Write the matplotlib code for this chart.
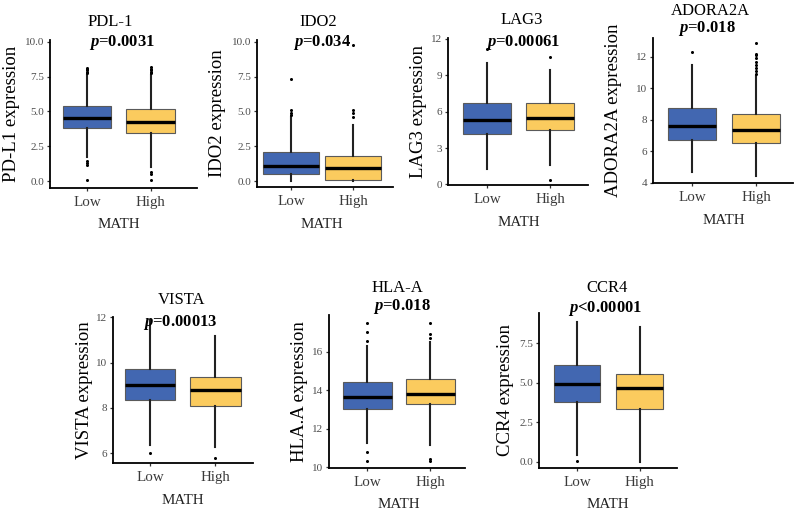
import matplotlib
matplotlib.use("Agg")
import matplotlib.pyplot as plt
import matplotlib.transforms as mtransforms
import numpy as np

plt.rcParams['font.family'] = ['Liberation Serif', 'DejaVu Serif']
plt.rcParams['mathtext.fontset'] = 'custom'
plt.rcParams['mathtext.it'] = 'Liberation Serif:italic:bold'
plt.rcParams['mathtext.rm'] = 'Liberation Serif:bold'

### data
genes = ["PDL-1", "IDO2", "LAG3", "ADORA2A", "VISTA", "HLA-A", "CCR4"]
ylabels = ["PD-L1 expression", "IDO2 expression", "LAG3 expression", "ADORA2A expression",
           "VISTA expression", "HLA.A expression", "CCR4 expression"]
pvals = ["$p$=0.0031", "$p$=0.034", "$p$=0.00061", "$p$=0.018",
         "$p$=0.00013", "$p$=0.018", "$p$<0.00001"]
groups = ["Low", "High"]

low_q1     = [3.83, 0.50, 4.17, 6.69, 8.33, 13.00, 3.77]
low_med    = [4.53, 1.08, 5.29, 7.57, 9.00, 13.65, 4.90]
low_q3     = [5.40, 2.06, 6.68, 8.73, 9.73, 14.40, 6.12]
low_whislo = [1.75, 0.00, 1.23, 4.70, 6.36, 11.25, 0.44]
low_whishi = [7.60, 4.60, 10.05, 11.50, 11.90, 16.30, 8.85]
low_fliers = [[7.75, 7.85, 7.95, 8.05, 8.12, 1.45, 1.30, 1.15, 0.05],
              [4.75, 4.85, 5.10, 7.35],
              [11.20],
              [12.30],
              [6.00],
              [16.55, 17.00, 17.50, 10.80, 10.30],
              [0.06]]

high_q1     = [3.43, 0.05, 4.50, 6.53, 8.09, 13.25, 3.32]
high_med    = [4.27, 0.93, 5.50, 7.32, 8.77, 13.80, 4.65]
high_q3     = [5.20, 1.80, 6.70, 8.37, 9.36, 14.60, 5.55]
high_whislo = [1.03, 0.00, 1.64, 4.40, 6.28, 11.15, 0.02]
high_whishi = [7.60, 4.00, 9.45, 10.80, 11.20, 16.50, 8.54]
high_fliers = [[7.75, 7.85, 7.95, 8.05, 8.20, 0.65, 0.50, 0.05],
               [4.60, 4.85, 5.10, 9.75],
               [10.50, 0.40],
               [10.9, 11.1, 11.3, 11.5, 11.7, 11.9, 12.1, 12.2, 12.9],
               [5.76],
               [16.70, 16.90, 17.50, 10.40, 10.30],
               []]

yticks = [[0, 2.5, 5, 7.5, 10], [0, 2.5, 5, 7.5, 10], [0, 3, 6, 9, 12], [4, 6, 8, 10, 12],
          [6, 8, 10, 12], [10, 12, 14, 16], [0, 2.5, 5, 7.5]]
yfmt = ["%.1f", "%.1f", "%d", "%d", "%d", "%d", "%.1f"]

### layout (pixels in a 800x519 picture)
W, H = 800, 519
rects = [(50, 197, 40, 188), (257, 393, 40, 187), (448, 588, 38, 185), (653, 793, 38, 183),
         (113, 253, 317, 463), (329, 465, 315, 468), (539, 677, 313, 468)]
xlims = [(0.417, 2.732), (0.452, 2.645), (0.381, 2.603), (0.391, 2.578),
         (0.435, 2.573), (0.389, 2.548), (0.392, 2.598)]
ylims = [(-0.5, 10.14), (-0.43, 10.12), (-0.05, 12.08), (3.97, 13.2),
         (5.56, 12.02), (9.95, 17.9), (-0.38, 9.4)]
widths = [0.76, 0.9, 0.76, 0.75, 0.77, 0.78, 0.75]
title_xy = [(110, 22), (318, 22), (522, 20), (710, 11), (182, 300), (397, 288), (607, 288)]
p_xy = [(122, 43), (322, 43), (523, 43), (707, 29), (180, 322), (402, 307), (605, 308)]
ylab_off = [38, 40, 30, 39, 28, 30, 33]

colors = ["#4267b1", "#fbcb5e"]

fig = plt.figure(figsize=(8, 5.19), dpi=100)

for i in range(len(genes)):
    l, r, t, b = rects[i]
    ax = fig.add_axes([l / W, 1 - b / H, (r - l) / W, (b - t) / H])
    stats = [
        dict(q1=low_q1[i], med=low_med[i], q3=low_q3[i], whislo=low_whislo[i],
             whishi=low_whishi[i], fliers=low_fliers[i]),
        dict(q1=high_q1[i], med=high_med[i], q3=high_q3[i], whislo=high_whislo[i],
             whishi=high_whishi[i], fliers=high_fliers[i]),
    ]
    bp = ax.bxp(stats, positions=[1, 2], widths=widths[i], patch_artist=True, showcaps=False,
                boxprops=dict(edgecolor="#5a5a5a", linewidth=0.8),
                medianprops=dict(color="black", linewidth=2.4, solid_capstyle="butt"),
                whiskerprops=dict(color="#222222", linewidth=1.5),
                flierprops=dict(marker="o", markersize=2.2, markerfacecolor="black",
                                markeredgewidth=0, linestyle="none"))
    for patch, c in zip(bp["boxes"], colors):
        patch.set_facecolor(c)

    ax.set_xlim(*xlims[i])
    ax.set_ylim(*ylims[i])
    ax.set_xticks([1, 2])
    ax.set_xticklabels(groups, fontsize=10.8, color="#3a3a3a")
    ax.set_yticks(yticks[i])
    ax.set_yticklabels([yfmt[i] % v for v in yticks[i]], fontsize=8, color="#4d4d4d")
    ax.tick_params(axis="both", direction="out", length=2.5, width=0.9, color="#333333")
    ax.tick_params(axis="x", pad=3)
    ax.tick_params(axis="y", pad=1.5)
    for s in ["top", "right"]:
        ax.spines[s].set_visible(False)
    for s in ["left", "bottom"]:
        ax.spines[s].set_linewidth(1.3)
        ax.spines[s].set_color("black")

    ax.set_ylabel(ylabels[i], fontsize=13.5, va="center")
    ax.yaxis.set_label_coords(-ylab_off[i] / (r - l), 0.5)
    ax.set_xlabel("MATH", fontsize=10.8, va="center", color="#222222")
    trans = mtransforms.blended_transform_factory(ax.transData, ax.transAxes)
    ax.xaxis.set_label_coords(1.5, -37 / (b - t), transform=trans)

    fig.text(title_xy[i][0] / W, 1 - title_xy[i][1] / H, genes[i], fontsize=12,
             ha="center", va="center")
    fig.text(p_xy[i][0] / W, 1 - p_xy[i][1] / H, pvals[i], fontsize=12,
             fontweight="bold", ha="center", va="center")

plt.savefig("out.png", dpi=100)
